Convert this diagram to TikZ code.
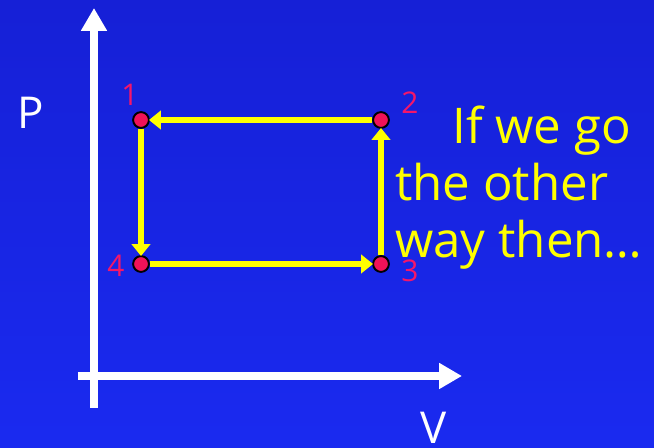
\documentclass[tikz,border=0pt]{standalone}
\usepackage{fontspec}
\setmainfont{Open Sans}
\usetikzlibrary{arrows.meta, positioning}
\definecolor{slideblue}{RGB}{24,36,226}
\definecolor{slidetop}{RGB}{22,32,214}
\definecolor{slidebot}{RGB}{26,42,240}
\definecolor{ptred}{RGB}{240,18,88}
\definecolor{lblred}{RGB}{245,22,105}
\definecolor{pathyel}{RGB}{255,255,0}

\begin{document}
\begin{tikzpicture}[
  x=0.02cm, y=-0.02cm,
  axis/.style  = {draw=white, line width=4.5pt, -{Triangle[length=13pt, width=14pt]}},
  state/.style = {circle, draw=black, fill=ptred, line width=1.1pt,
                  minimum size=9pt, inner sep=0pt},
  leg/.style   = {draw=pathyel, line width=3.2pt,
                  -{Triangle[length=6.8pt, width=10.5pt]}, shorten >=-0.5pt},
  num/.style   = {text=lblred, font=\fontsize{17}{17}\selectfont, inner sep=0pt},
  axlbl/.style = {text=white, font=\fontsize{25}{25}\selectfont, inner sep=0pt},
  say/.style   = {text=pathyel, font=\fontsize{28}{28}\selectfont, inner sep=0pt,
                  anchor=base west},
]

% background slide
\shade[top color=slidetop, bottom color=slidebot] (0,0) rectangle (654,448);
\useasboundingbox (0,0) rectangle (654,448);

% axes
\coordinate (ybot)  at (94,408);
\coordinate (ytip)  at (94,8);
\coordinate (xleft) at (78,376);
\coordinate (xtip)  at (462,376);
\draw[axis] (ybot)  -- (ytip);
\draw[axis] (xleft) -- (xtip);
\node[axlbl] (plbl) at (31,113) {P};
\node[axlbl] (vlbl) at (434,428) {V};

% states of the cycle
\node[state] (p1) at (141,120) {};
\node[state] (p2) at (381,120) {};
\node[state] (p3) at (381,264) {};
\node[state] (p4) at (141,264) {};

\node[num] (n1) at (130,95)  {1};
\node[num] (n2) at (410,103) {2};
\node[num] (n3) at (410,271) {3};
\node[num] (n4) at (116,266) {4};

% reversed cycle
\draw[leg] (p2) -- (p1);
\draw[leg] (p1) -- (p4);
\draw[leg] (p4) -- (p3);
\draw[leg] (p3) -- (p2);

% remark
\node[say] (t1) at (452,144) {If we go};
\node[say] (t2) at (395,201) {the other};
\node[say] (t3) at (395,258) {way then\dots};

\end{tikzpicture}
\end{document}
